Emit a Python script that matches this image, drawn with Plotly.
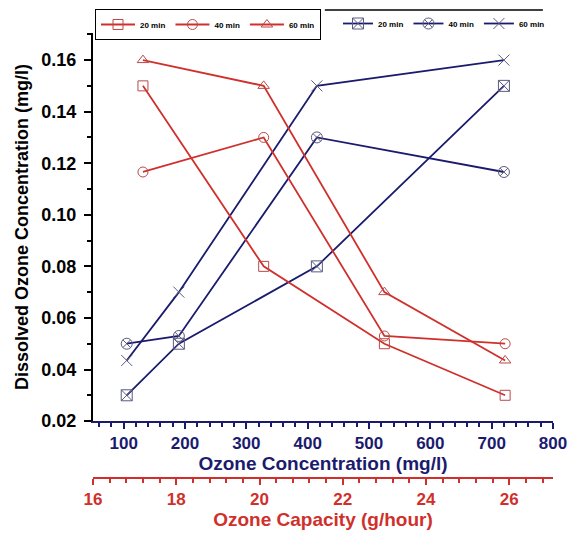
import plotly.graph_objects as go

# ---- data ----
series_names = ["20 min", "40 min", "60 min"]

# Red series: plotted against Ozone Capacity (g/hour)
capacity_x = [17.2, 20.1, 23.0, 25.9]
red_20 = [0.15, 0.08, 0.05, 0.03]
red_40 = [0.1166, 0.13, 0.053, 0.05]
red_60 = [0.16, 0.15, 0.07, 0.0435]

# Blue series: plotted against Ozone Concentration (mg/l)
conc_x = [105, 190, 415, 720]
blue_20 = [0.03, 0.05, 0.08, 0.15]
blue_40 = [0.05, 0.053, 0.13, 0.1166]
blue_60 = [0.0435, 0.07, 0.15, 0.16]

RED = "#d0302c"
RED_MK = "#b84a48"
NAVY = "#1b1b6e"
NAVY_MK = "#5a5a80"
FONT = "Liberation Sans"

fig = go.Figure()

red_symbols = ["square-open", "circle-open", "triangle-up-open"]
for name, ys, sym in zip(series_names, [red_20, red_40, red_60], red_symbols):
    fig.add_trace(go.Scatter(
        x=capacity_x, y=ys, name=name, xaxis="x2", yaxis="y",
        mode="lines+markers",
        line=dict(color=RED, width=1.8),
        marker=dict(symbol=sym, size=10, color=RED_MK, line=dict(width=1)),
        legend="legend",
    ))

blue_symbols = ["square-x-open", "circle-x-open", "x-thin-open"]
for name, ys, sym in zip(series_names, [blue_20, blue_40, blue_60], blue_symbols):
    fig.add_trace(go.Scatter(
        x=conc_x, y=ys, name=name, xaxis="x", yaxis="y",
        mode="lines+markers",
        line=dict(color=NAVY, width=1.8),
        marker=dict(symbol=sym, size=11, color=NAVY_MK, line=dict(width=1, color=NAVY_MK)),
        legend="legend2",
    ))

bold = dict(family=FONT, weight="bold")

fig.update_layout(
    width=578, height=535,
    margin=dict(l=93, r=25, t=33, b=40, autoexpand=False),
    paper_bgcolor="white", plot_bgcolor="white",
    font=dict(family=FONT, color="black"),
    xaxis=dict(
        domain=[0, 1], range=[50, 800], anchor="y", automargin=False,
        tickmode="linear", tick0=0, dtick=100,
        ticks="outside", ticklen=6, tickwidth=2, tickcolor=NAVY,
        showline=True, linecolor=NAVY, linewidth=2,
        showgrid=False, zeroline=False,
        tickfont=dict(size=17, color=NAVY, **bold),
        minor=dict(dtick=20, ticks="outside", ticklen=4, tickwidth=2, tickcolor=NAVY, showgrid=False),
        title=dict(text="Ozone Concentration (mg/l)", font=dict(size=19, color=NAVY, **bold), standoff=0),
    ),
    xaxis2=dict(
        overlaying="x", anchor="free", position=0.0368, side="bottom", automargin=False,
        range=[16, 27.05], tickmode="linear", tick0=16, dtick=2,
        ticks="outside", ticklen=6, tickwidth=2, tickcolor=RED,
        showline=True, linecolor=RED, linewidth=2,
        showgrid=False, zeroline=False,
        tickfont=dict(size=17, color=RED, **bold),
        minor=dict(dtick=0.4, ticks="outside", ticklen=4, tickwidth=2, tickcolor=RED, showgrid=False),
        title=dict(text="Ozone Capacity (g/hour)", font=dict(size=19, color=RED, **bold), standoff=0),
    ),
    yaxis=dict(
        domain=[0.16, 1], range=[0.02, 0.1705], anchor="x", automargin=False,
        tickmode="linear", tick0=0.02, dtick=0.02, tickformat=".2f",
        ticks="outside", ticklen=7, tickwidth=2, tickcolor="black",
        showline=True, linecolor="black", linewidth=2,
        showgrid=False, zeroline=False,
        tickfont=dict(size=18, color="black", **bold), ticklabelstandoff=4,
        minor=dict(dtick=0.01, ticks="outside", ticklen=4, tickwidth=2, tickcolor="black", showgrid=False),
        title=dict(text="Dissolved Ozone Concentration (mg/l)", font=dict(size=18, color="black", **bold), standoff=8),
    ),
    yaxis2=dict(
        overlaying="y", matches="y", side="right", anchor="x", automargin=False,
        tickmode="linear", tick0=0.02, dtick=0.02,
        ticks="inside", ticklen=7, tickwidth=2, tickcolor="black",
        showline=True, linecolor="black", linewidth=2,
        showgrid=False, zeroline=False, showticklabels=False,
        minor=dict(dtick=0.01, ticks="inside", ticklen=4, tickwidth=2, tickcolor="black", showgrid=False),
    ),
    legend=dict(
        orientation="h", xref="container", yref="container",
        x=95 / 578, y=1 - 9 / 535, xanchor="left", yanchor="top",
        bordercolor="black", borderwidth=1, bgcolor="white",
        font=dict(size=8, color="black", **bold), itemwidth=34,
        tracegroupgap=0,
    ),
    legend2=dict(
        orientation="h", xref="container", yref="container",
        x=338 / 578, y=1 - 9 / 535, xanchor="left", yanchor="top",
        borderwidth=0, bgcolor="rgba(255,255,255,0)",
        font=dict(size=8, color="black", **bold), itemwidth=30,
    ),
    shapes=[dict(type="line", xref="paper", yref="paper", x0=0.504, x1=0.978, y0=1.05, y1=1.05,
                 line=dict(color="black", width=1.5))],
)

fig.write_html("out.html", post_script="document.body.style.margin='0';",
               config={"displayModeBar": False})
